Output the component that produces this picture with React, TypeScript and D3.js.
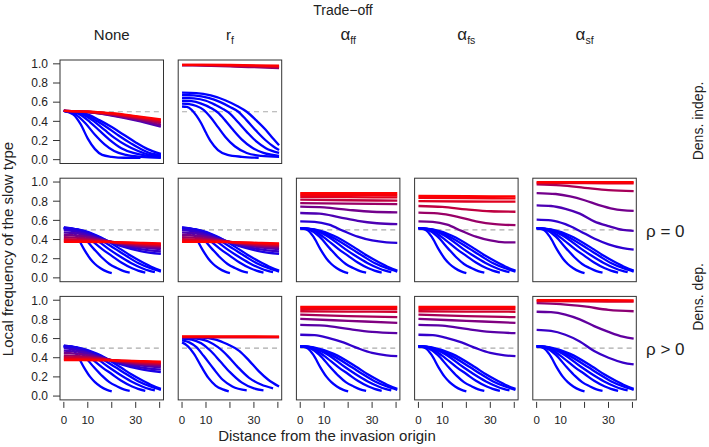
import React from 'react';
import * as d3 from 'd3';

type Pt = [number, number];
interface Curve { gen: number; pts: Pt[] }

// column headers and row labels
const columns = ['None', 'r|f', 'α|ff', 'α|fs', 'α|sf'];
const yTicks = [0, 0.2, 0.4, 0.6, 0.8, 1.0];
const xTicks = [0, 10, 20, 30, 40];
const xTickLabels = ['0', '10', '', '30', ''];

// early wave fronts (blue), density independent, no trade-off
const frontIndepNone: Pt[][] = [
  [[0, .51], [4, .47], [7, .37], [10, .22], [13, .11], [16, .05], [20, .03], [25, .02], [32, .02]],
  [[0, .51], [5, .47], [9, .38], [13, .26], [17, .16], [21, .09], [26, .05], [32, .03], [40.5, .02]],
  [[0, .51], [6, .48], [11, .39], [15, .30], [19, .21], [24, .12], [29, .07], [35, .04], [40.5, .03]],
  [[0, .51], [7, .48], [12, .41], [17, .31], [21, .23], [26, .15], [31, .09], [36, .05], [40.5, .04]],
  [[0, .51], [8, .48], [14, .40], [19, .32], [23, .25], [28, .17], [33, .10], [37, .06], [40.5, .05]],
  [[0, .51], [9, .48], [15, .41], [20, .34], [25, .26], [30, .18], [35, .11], [40.5, .06]],
];
const bandIndepNone: Curve[] = [
  { gen: .3, pts: [[0, .51], [10, .495], [20, .46], [30, .41], [40.5, .345]] },
  { gen: .45, pts: [[0, .51], [10, .497], [20, .465], [30, .42], [40.5, .36]] },
  { gen: .6, pts: [[0, .51], [10, .50], [20, .47], [30, .43], [40.5, .38]] },
  { gen: .75, pts: [[0, .51], [10, .50], [20, .475], [30, .44], [40.5, .395]] },
  { gen: .9, pts: [[0, .51], [10, .50], [20, .48], [30, .45], [40.5, .41]] },
  { gen: 1, pts: [[0, .51], [10, .502], [20, .485], [30, .455], [40.5, .42]] },
];

// density independent, r_f trade-off
const frontIndepRf: Pt[][] = [
  [[0, .555], [2, .55], [4, .52], [6, .46], [8, .38], [10, .28], [12, .19], [15, .10], [19, .05], [25, .03], [32, .02]],
  [[0, .585], [3, .58], [6, .56], [9, .52], [12, .44], [15, .34], [18, .24], [22, .14], [27, .07], [33, .04], [40.5, .03]],
  [[0, .615], [4, .61], [8, .585], [12, .54], [15, .49], [18, .41], [21, .32], [25, .21], [29, .13], [34, .07], [40.5, .04]],
  [[0, .645], [5, .64], [10, .615], [14, .57], [17, .53], [20, .48], [23, .40], [27, .29], [31, .19], [35, .12], [40.5, .07]],
  [[0, .675], [5, .67], [11, .645], [16, .60], [20, .55], [23.5, .50], [27, .41], [31, .30], [35, .20], [38, .14], [40.5, .10]],
  [[0, .70], [6, .695], [12, .67], [18, .62], [23, .56], [27, .50], [31, .41], [35, .31], [38, .22], [40.5, .15]],
];
const bandIndepRf: Curve[] = [
  { gen: .55, pts: [[0, .985], [20, .975], [40.5, .955]] },
  { gen: .7, pts: [[0, .987], [20, .98], [40.5, .963]] },
  { gen: .85, pts: [[0, .99], [20, .985], [40.5, .972]] },
  { gen: 1, pts: [[0, .99], [20, .988], [40.5, .98]] },
];

// density dependent fronts (shared look across most panels)
const frontDep: Pt[][] = [
  [[0, .52], [3, .50], [5.5, .43], [8.4, .30], [11, .20], [13, .145], [15.3, .10], [18, .065], [20, .05]],
  [[0, .52], [4, .50], [8, .43], [12.6, .30], [16, .21], [19, .145], [22.3, .10], [25, .07], [27.5, .055]],
  [[0, .52], [5, .50], [10, .42], [16, .30], [20, .23], [24, .16], [28.5, .10], [31, .075], [34, .055]],
  [[0, .52], [5, .505], [11, .44], [18.8, .30], [23, .23], [28, .155], [32.7, .10], [35.5, .075], [38, .06]],
  [[0, .52], [6, .50], [13, .43], [21.6, .30], [26, .23], [31, .155], [36.2, .10], [40.5, .065]],
  [[0, .52], [6, .505], [14, .44], [23.7, .30], [28, .23], [33, .16], [37, .11], [40.5, .075]],
];
const bandDepNone: Curve[] = [
  { gen: .1, pts: [[0, .53], [8, .49], [16, .41], [24, .33], [32, .28], [40.5, .25]] },
  { gen: .2, pts: [[0, .50], [8, .47], [16, .40], [24, .34], [32, .30], [40.5, .275]] },
  { gen: .3, pts: [[0, .475], [8, .455], [16, .40], [24, .35], [32, .32], [40.5, .30]] },
  { gen: .45, pts: [[0, .45], [8, .435], [16, .395], [24, .355], [32, .33], [40.5, .315]] },
  { gen: .6, pts: [[0, .425], [8, .415], [16, .39], [24, .36], [32, .34], [40.5, .33]] },
  { gen: .75, pts: [[0, .405], [8, .40], [16, .385], [24, .365], [32, .35], [40.5, .34]] },
  { gen: .9, pts: [[0, .39], [8, .385], [16, .38], [24, .37], [32, .36], [40.5, .35]] },
  { gen: 1, pts: [[0, .375], [8, .375], [16, .373], [24, .37], [32, .365], [40.5, .36]] },
];
const bandDep0Aff: Curve[] = [
  { gen: .15, pts: [[0, .59], [6, .585], [12, .555], [18, .49], [24, .43], [30, .39], [36, .37], [40.5, .365]] },
  { gen: .3, pts: [[0, .677], [8, .67], [16, .635], [24, .595], [32, .57], [40.5, .56]] },
  { gen: .45, pts: [[0, .743], [10, .735], [20, .71], [30, .69], [40.5, .684]] },
  { gen: .6, pts: [[0, .78], [20, .775], [40.5, .77]] },
  { gen: .75, pts: [[0, .816], [20, .81], [40.5, .806]] },
  { gen: .88, pts: [[0, .845], [20, .842], [40.5, .84]] },
  { gen: .95, pts: [[0, .865], [20, .863], [40.5, .862]] },
  { gen: 1, pts: [[0, .885], [20, .885], [40.5, .885]] },
];
const bandDep0Afs: Curve[] = [
  { gen: .45, pts: [[0, .59], [6, .585], [12, .555], [18, .49], [24, .43], [30, .39], [36, .37], [40.5, .37]] },
  { gen: .6, pts: [[0, .68], [8, .672], [16, .64], [24, .59], [32, .56], [40.5, .55]] },
  { gen: .75, pts: [[0, .75], [10, .74], [20, .715], [30, .695], [40.5, .69]] },
  { gen: .88, pts: [[0, .80], [20, .797], [40.5, .795]] },
  { gen: .95, pts: [[0, .835], [20, .832], [40.5, .83]] },
  { gen: 1, pts: [[0, .855], [20, .852], [40.5, .85]] },
];
const bandDep0Asf: Curve[] = [
  { gen: .18, pts: [[0, .608], [6, .60], [12, .56], [18, .49], [24, .41], [30, .35], [36, .31], [40.5, .295]] },
  { gen: .3, pts: [[0, .757], [6, .75], [12, .72], [18, .67], [24, .59], [30, .54], [36, .50], [40.5, .49]] },
  { gen: .45, pts: [[0, .885], [8, .875], [14, .85], [20, .81], [26, .76], [32, .72], [40.5, .698]] },
  { gen: .65, pts: [[0, .976], [10, .965], [20, .94], [30, .915], [40.5, .906]] },
  { gen: .88, pts: [[0, .99], [20, .988], [40.5, .985]] },
  { gen: 1, pts: [[0, 1.0], [20, 1.0], [40.5, .998]] },
];

// rho > 0
const frontPosRf: Pt[][] = [
  [[0, .56], [2, .53], [5, .44], [8, .31], [11, .19], [14, .11], [17, .07], [19.5, .05]],
  [[0, .58], [3, .56], [6, .51], [9, .42], [13, .29], [17, .17], [21, .10], [27, .06]],
  [[0, .60], [4, .59], [8, .55], [12, .47], [16, .36], [20, .25], [25, .14], [30, .08], [34, .06]],
  [[0, .61], [6, .60], [11, .57], [15, .51], [19, .42], [23, .31], [28, .19], [33, .12], [38, .08]],
  [[0, .61], [8, .61], [14, .59], [19, .54], [24, .47], [28, .37], [32, .26], [36, .17], [40.5, .10]],
];
const bandPosRf: Curve[] = [
  { gen: .7, pts: [[0, .612], [20, .612], [40.5, .612]] },
  { gen: .85, pts: [[0, .618], [20, .618], [40.5, .617]] },
  { gen: 1, pts: [[0, .622], [20, .622], [40.5, .621]] },
];
const bandPosAff: Curve[] = [
  { gen: .2, pts: [[0, .64], [6, .635], [12, .605], [18, .56], [24, .50], [30, .45], [36, .425], [40.5, .417]] },
  { gen: .35, pts: [[0, .743], [10, .735], [20, .70], [30, .67], [40.5, .656]] },
  { gen: .5, pts: [[0, .805], [20, .785], [40.5, .764]] },
  { gen: .65, pts: [[0, .85], [20, .835], [40.5, .823]] },
  { gen: .82, pts: [[0, .885], [20, .882], [40.5, .88]] },
  { gen: .93, pts: [[0, .91], [20, .91], [40.5, .91]] },
  { gen: 1, pts: [[0, .93], [20, .93], [40.5, .93]] },
];
const bandPosAsf: Curve[] = [
  { gen: .22, pts: [[0, .69], [6, .68], [12, .64], [18, .57], [24, .47], [30, .40], [36, .35], [40.5, .33]] },
  { gen: .38, pts: [[0, .88], [6, .875], [12, .85], [18, .80], [24, .73], [30, .67], [36, .62], [40.5, .60]] },
  { gen: .55, pts: [[0, .97], [10, .96], [20, .935], [30, .90], [40.5, .885]] },
  { gen: .85, pts: [[0, .99], [20, .988], [40.5, .985]] },
  { gen: 1, pts: [[0, 1.0], [20, 1.0], [40.5, .998]] },
];

const panels = [
  { row: 0, col: 0, front: frontIndepNone, band: bandIndepNone },
  { row: 0, col: 1, front: frontIndepRf, band: bandIndepRf },
  { row: 1, col: 0, front: frontDep, band: bandDepNone },
  { row: 1, col: 1, front: frontDep, band: bandDepNone },
  { row: 1, col: 2, front: frontDep, band: bandDep0Aff },
  { row: 1, col: 3, front: frontDep, band: bandDep0Afs },
  { row: 1, col: 4, front: frontDep, band: bandDep0Asf },
  { row: 2, col: 0, front: frontDep, band: bandDepNone },
  { row: 2, col: 1, front: frontPosRf, band: bandPosRf },
  { row: 2, col: 2, front: frontDep, band: bandPosAff },
  { row: 2, col: 3, front: frontDep, band: bandPosAff },
  { row: 2, col: 4, front: frontDep, band: bandPosAsf },
];

const FONT = '"Liberation Sans", Arial, Helvetica, sans-serif';
const SIZE = 103.5;
const colLeft = (c: number) => 60 + 118.2 * c;
const rowTop = (r: number) => 60 + 118.2 * r;

const genColor = d3.interpolateRgb('#0000ff', '#ff0000');

const Title: React.FC<{ label: string; x: number; y: number }> = ({ label, x, y }) => {
  const [main, sub] = label.split('|');
  return (
    <text x={x} y={y} textAnchor="middle" fontSize={15} fontFamily={FONT} fill="#222">
      <tspan fontSize={main === 'α' ? 17 : 15}>{main}</tspan>
      {sub && <tspan fontSize={10.5} dy={4}>{sub}</tspan>}
    </text>
  );
};

export default function App() {
  const x = d3.scaleLinear().domain([-1.6, 41.6]).range([0, SIZE]);
  const y = d3.scaleLinear().domain([-0.04, 1.04]).range([SIZE, 0]);
  const line = d3.line<Pt>()
    .x(d => x(d[0]))
    .y(d => y(d[1]))
    .curve(d3.curveMonotoneX);

  return (
    <svg width={709} height={447} style={{ position: 'absolute', left: 0, top: 0, background: '#fff' }}>
      <text x={343} y={15} textAnchor="middle" fontSize={14} fontFamily={FONT} fill="#222">Trade−off</text>
      {columns.map((c, i) => (
        <Title key={c} label={c} x={colLeft(i) + SIZE / 2} y={40} />
      ))}

      {panels.map(p => (
        <g key={`${p.row}-${p.col}`} transform={`translate(${colLeft(p.col)},${rowTop(p.row)})`}>
          <line x1={x(0)} x2={x(41)} y1={y(0.5)} y2={y(0.5)} stroke="#aaa" strokeWidth={1.2} strokeDasharray="5,4" />
          {p.front.map((pts, i) => (
            <path key={`f${i}`} d={line(pts) || ''} fill="none" stroke={genColor(0)} strokeWidth={2.3} />
          ))}
          {p.band.map((c, i) => (
            <path key={`b${i}`} d={line(c.pts) || ''} fill="none" stroke={genColor(c.gen)} strokeWidth={2.3} />
          ))}
          <rect x={0} y={0} width={SIZE} height={SIZE} fill="none" stroke="#333" strokeWidth={1} />
          {p.col === 0 && yTicks.map(t => (
            <g key={t} transform={`translate(0,${y(t)})`}>
              <line x1={-7} x2={0} stroke="#333" />
              <text x={-12} dy="0.36em" textAnchor="end" fontSize={12} fontFamily={FONT} fill="#222">{t.toFixed(1)}</text>
            </g>
          ))}
          {p.row === 2 && xTicks.map((t, i) => (
            <g key={t} transform={`translate(${x(t)},${SIZE})`}>
              <line y1={2} y2={8} stroke="#333" />
              <text y={24} textAnchor="middle" fontSize={11.5} fontFamily={FONT} fill="#222">{xTickLabels[i]}</text>
            </g>
          ))}
        </g>
      ))}

      <text transform="translate(703,121) rotate(-90)" textAnchor="middle" fontSize={14} fontFamily={FONT} fill="#222">Dens. indep.</text>
      <text transform="translate(703,297) rotate(-90)" textAnchor="middle" fontSize={14} fontFamily={FONT} fill="#222">Dens. dep.</text>
      <text x={646} y={237} fontSize={17} fontFamily={FONT} fill="#222">ρ = 0</text>
      <text x={646} y={355} fontSize={17} fontFamily={FONT} fill="#222">ρ &gt; 0</text>
      <text transform="translate(13,249) rotate(-90)" textAnchor="middle" fontSize={15} fontFamily={FONT} fill="#222">Local frequency of the slow type</text>
      <text x={327} y={441} textAnchor="middle" fontSize={15} fontFamily={FONT} fill="#222">Distance from the invasion origin</text>
    </svg>
  );
}
